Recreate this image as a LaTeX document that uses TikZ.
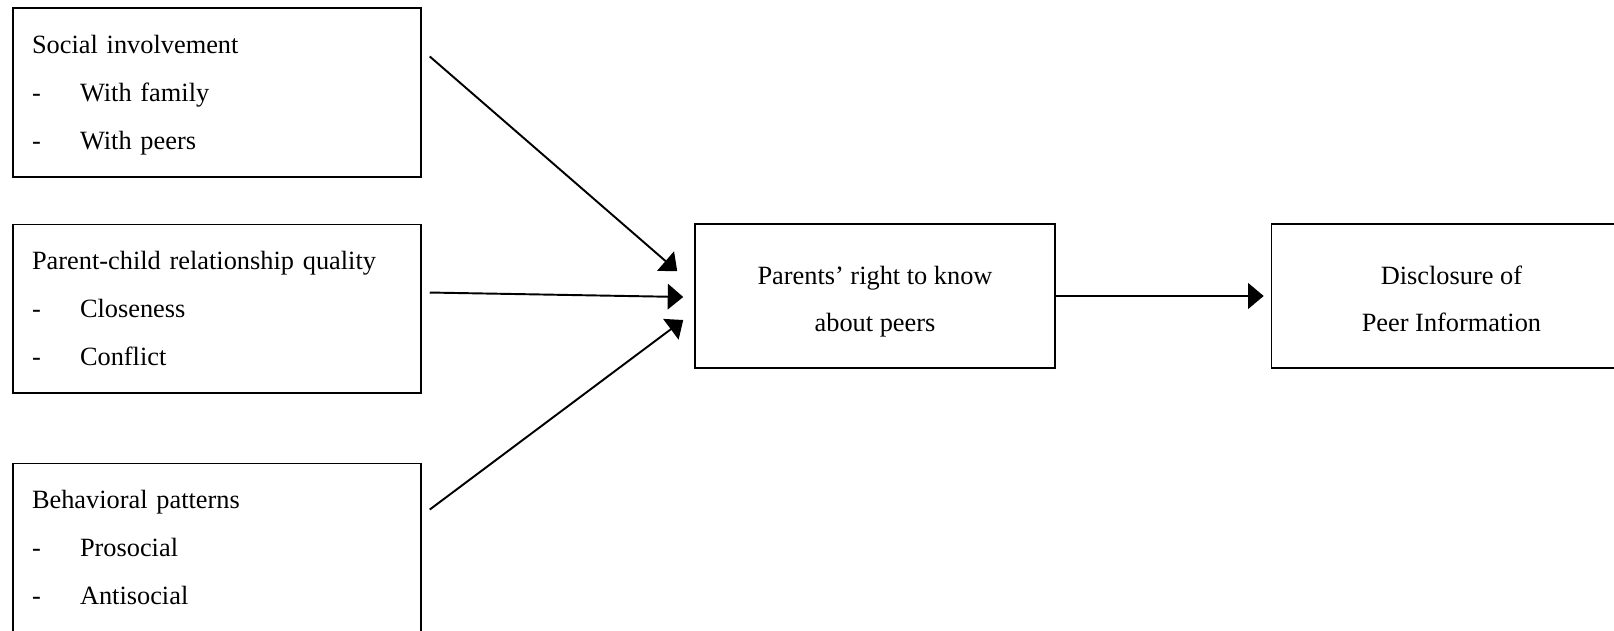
\documentclass[tikz,border=0pt]{standalone}
\usepackage{fontspec}
\setmainfont{Liberation Serif}
\usetikzlibrary{arrows.meta,positioning,calc}

\newcommand{\dashitem}{\makebox[0.96cm][l]{-}}

\begin{document}
\begin{tikzpicture}[
  x=0.02cm, y=-0.02cm,
  font=\fontsize{15pt}{27.3pt}\selectfont,
  factor/.style={draw, line width=0.9pt, minimum width=8.16cm, minimum height=3.37cm, text width=7.4cm, align=left, inner xsep=0.38cm, inner ysep=0pt, text depth=54.6pt},
  outcome/.style={draw, line width=0.9pt, minimum width=7.2cm, minimum height=2.88cm, align=center, text height=1.44cm, text depth=0pt},
  arr/.style={-{Triangle[length=0.31cm, width=0.51cm]}, line width=1.1pt}
]
  \useasboundingbox (0,0) rectangle (1614,631);
  % predictors
  \node[factor] (social) at (217,92.5) {Social involvement\\\dashitem With family\\\dashitem With peers};
  \node[factor, below=0.92cm of social] (pcrq) {Parent-child relationship quality\\\dashitem Closeness\\\dashitem Conflict};
  \node[factor, below=1.38cm of pcrq] (behav) {Behavioral patterns\\\dashitem Prosocial\\\dashitem Antisocial};
  % mediator and outcome
  \node[outcome] (rtk) at (875,296) {Parents’ right to know\\about peers};
  \node[outcome, right=4.3cm of rtk] (disc) {Disclosure of\\Peer Information};
  \draw[arr] ($(social.north east)+(8,49)$) -- ($(rtk.north west)+(-17,48)$);
  \draw[arr] ($(pcrq.east)+(8,-16)$) -- ($(rtk.west)+(-11,1)$);
  \draw[arr] ($(behav.north east)+(8,47)$) -- ($(rtk.west)+(-11,24)$);
  \draw[arr, shorten >=0.14cm] (rtk) -- (disc);
\end{tikzpicture}
\end{document}
